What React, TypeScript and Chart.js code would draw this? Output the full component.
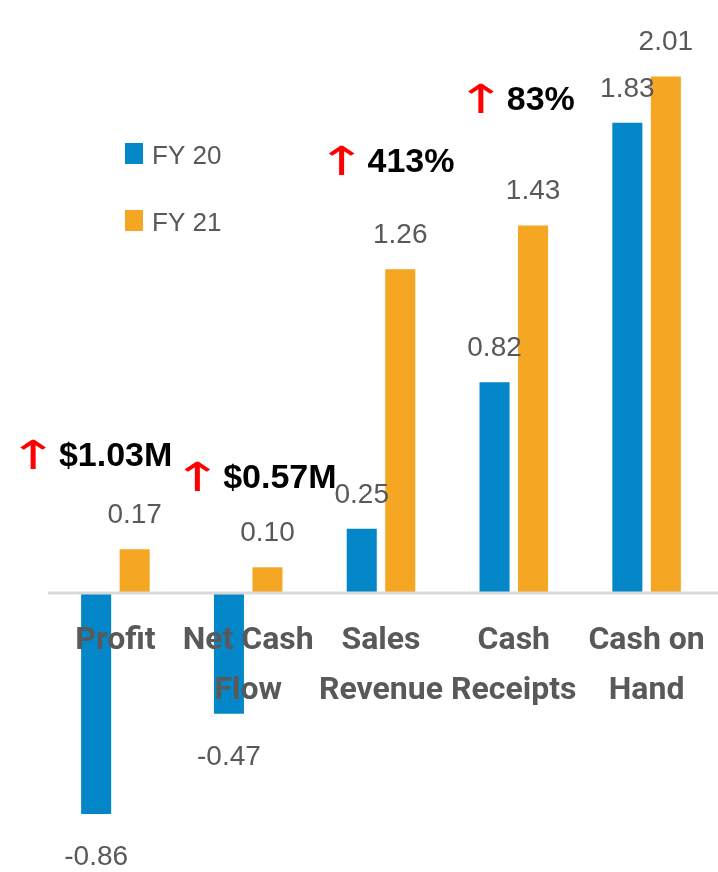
import React, { useEffect, useRef } from "react";
import { Chart, registerables } from "chart.js";

Chart.register(...registerables);

// ---- data ----
const categories: string[][] = [
  ["Profit"],
  ["Net Cash", "Flow"],
  ["Sales", "Revenue"],
  ["Cash", "Receipts"],
  ["Cash on", "Hand"],
];
const seriesNames = ["FY 20", "FY 21"];
const fy20Values = [-0.86, -0.47, 0.25, 0.82, 1.83];
const fy21Values = [0.17, 0.1, 1.26, 1.43, 2.01];

const annotationCategoryIndex = [0, 1, 2, 3];
const annotationTexts = ["$1.03M", "$0.57M", "413%", "83%"];
const annotationArrow = "\u2191";

// ---- layout / style (not data) ----
const annotationLayout = [
  { dx: -95.5, baseline: 466 },
  { dx: -64, baseline: 488 },
  { dx: -52.5, baseline: 172 },
  { dx: -46, baseline: 110 },
];
const BLUE = "#0487C9";
const ORANGE = "#F5A623";
const GREY_TEXT = "#595959";
const W = 718;
const H = 872;
const PX_PER_UNIT = 257;
const ZERO_Y = 593;

const labelPlugin = {
  id: "customDraw",
  afterDatasetsDraw(chart: any) {
    const ctx = chart.ctx as CanvasRenderingContext2D;
    const xScale = chart.scales.x;
    const yScale = chart.scales.y;
    ctx.save();

    // zero line
    const y0 = yScale.getPixelForValue(0);
    ctx.strokeStyle = "#D9D9D9";
    ctx.lineWidth = 3;
    ctx.beginPath();
    ctx.moveTo(chart.chartArea.left - 1, y0);
    ctx.lineTo(chart.width, y0);
    ctx.stroke();

    // data labels
    ctx.font = "28px 'Liberation Sans', Arial, sans-serif";
    ctx.fillStyle = GREY_TEXT;
    ctx.textAlign = "center";
    ctx.textBaseline = "alphabetic";
    chart.data.datasets.forEach((ds: any, di: number) => {
      const meta = chart.getDatasetMeta(di);
      meta.data.forEach((el: any, i: number) => {
        const v = ds.data[i] as number;
        const txt = v.toFixed(2);
        const y = v >= 0 ? el.y - 26 : el.y + 51;
        ctx.fillText(txt, el.x, y);
      });
    });

    // legend
    const legLeft = 125;
    const legTops = [143, 210];
    chart.data.datasets.forEach((ds: any, di: number) => {
      const top = legTops[di];
      ctx.fillStyle = ds.backgroundColor;
      ctx.fillRect(legLeft, top, 18, 21);
      ctx.fillStyle = GREY_TEXT;
      ctx.textAlign = "left";
      ctx.font = "26px 'Liberation Sans', Arial, sans-serif";
      ctx.fillText(ds.label, legLeft + 27, top + 21);
    });

    // annotations
    annotationTexts.forEach((txt, k) => {
      const idx = annotationCategoryIndex[k];
      const lay = annotationLayout[k];
      const cx = xScale.getPixelForValue(idx);
      const left = cx + lay.dx;
      const base = lay.baseline;
      // arrow glyph fitted into a 27x30 box
      ctx.fillStyle = "#FF0000";
      ctx.textAlign = "left";
      let fs = 40;
      ctx.font = `${fs}px 'DejaVu Sans', sans-serif`;
      let m = ctx.measureText(annotationArrow);
      const h = m.actualBoundingBoxAscent + m.actualBoundingBoxDescent;
      fs = (fs * 30) / h;
      ctx.font = `${fs}px 'DejaVu Sans', sans-serif`;
      m = ctx.measureText(annotationArrow);
      const gw = m.actualBoundingBoxLeft + m.actualBoundingBoxRight;
      const sx = 27 / gw;
      const boxTop = base + 3 - 30;
      ctx.save();
      ctx.translate(left, boxTop + m.actualBoundingBoxAscent);
      ctx.scale(sx, 1);
      ctx.fillText(annotationArrow, m.actualBoundingBoxLeft, 0);
      ctx.restore();
      ctx.fillStyle = "#000000";
      ctx.textAlign = "left";
      ctx.font = "bold 34px 'Liberation Sans', Arial, sans-serif";
      ctx.fillText(txt, left + 39, base);
    });

    ctx.restore();
  },
};

export default function App() {
  const ref = useRef<HTMLCanvasElement | null>(null);
  useEffect(() => {
    if (!ref.current) return;
    const yMax = ZERO_Y / PX_PER_UNIT;
    const yMin = -(H - ZERO_Y) / PX_PER_UNIT;
    const chart = new Chart(ref.current, {
      type: "bar",
      data: {
        labels: categories,
        datasets: [
          {
            label: seriesNames[0],
            data: fy20Values,
            backgroundColor: BLUE,
            categoryPercentage: 0.58,
            barPercentage: 0.78,
          },
          {
            label: seriesNames[1],
            data: fy21Values,
            backgroundColor: ORANGE,
            categoryPercentage: 0.58,
            barPercentage: 0.78,
          },
        ],
      },
      options: {
        responsive: false,
        animation: false,
        layout: { padding: { left: 49, right: 5, top: 0, bottom: 0 } },
        plugins: {
          legend: { display: false },
          tooltip: { enabled: false },
        },
        scales: {
          y: {
            display: false,
            min: yMin,
            max: yMax,
          },
          x: {
            position: { y: 0 } as any,
            afterFit: (scale: any) => {
              scale.paddingLeft = 0;
              scale.paddingRight = 0;
            },
            grid: { display: false, drawTicks: false },
            border: { display: false },
            ticks: {
              z: 1,
              autoSkip: false,
              maxRotation: 0,
              minRotation: 0,
              padding: 23,
              color: GREY_TEXT,
              font: {
                family: "Roboto, 'Liberation Sans Narrow', sans-serif",
                size: 32,
                weight: "bold",
                lineHeight: 50 / 32,
              },
            },
          },
        },
      },
      plugins: [labelPlugin],
    });
    return () => chart.destroy();
  }, []);
  return (
    <div style={{ position: "fixed", left: 0, top: 0, width: W, height: H, background: "#fff" }}>
      <canvas ref={ref} width={W} height={H} style={{ display: "block" }} />
    </div>
  );
}
